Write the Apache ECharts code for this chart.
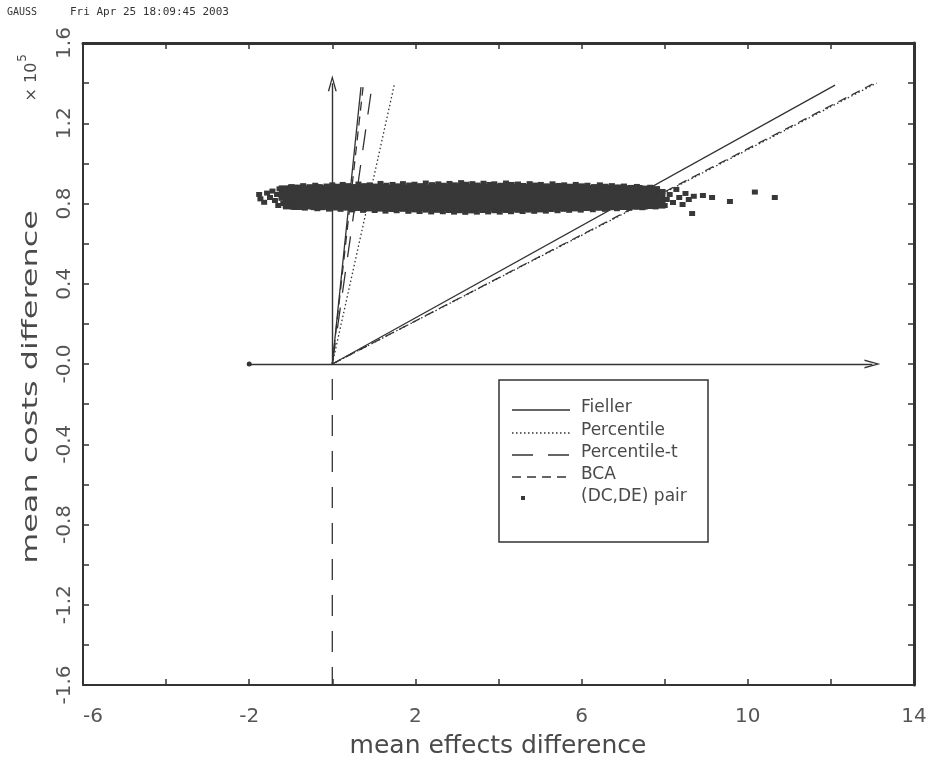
<!DOCTYPE html>
<html><head><meta charset="utf-8">
<script src="https://cdn.jsdelivr.net/npm/echarts@6/dist/echarts.min.js"></script>
<style>html,body{margin:0;padding:0;background:#fff}#c{width:930px;height:767px}</style>
</head><body><div id="c"></div>
<script>
// ---------- data ----------
const xTickValues = [-6, -2, 2, 6, 10, 14];
const xTickLabels = ['-6', '-2', '2', '6', '10', '14'];
const yTickValues = [-1.6, -1.2, -0.8, -0.4, 0, 0.4, 0.8, 1.2, 1.6];
const yTickLabels = ['-1.6', '-1.2', '-0.8', '-0.4', '-0.0', '0.4', '0.8', '1.2', '1.6'];
const legendNames = ['Fieller', 'Percentile', 'Percentile-t', 'BCA', '(DC,DE) pair'];
const headerTexts = ['GAUSS', 'Fri Apr 25 18:09:45 2003'];
const xAxisTitle = 'mean effects difference';
const yAxisTitle = 'mean costs difference';
const yScaleLabel = ['\u00d7 10', '5'];

const origin = [0, 0];
const fiellerEnds = [[0.69, 1.38], [12.1, 1.39]];
const percentileEnds = [[1.49, 1.39], [13.1, 1.40]];
const percentileTEnds = [[0.95, 1.38], [0, -1.6]];
const bcaEnds = [[0.74, 1.38], [13.0, 1.395]];
const xArrow = [[-2, 0], [13, 0]];
const yArrow = [[0, 0], [0, 1.4]];

const pairCoreUpper = [[-1.12,0.853],[-0.9,0.857],[-0.69,0.851],[-0.45,0.858],[-0.24,0.854],[0.0,0.857],[0.21,0.86],[0.45,0.855],[0.66,0.858],[0.9,0.856],[1.12,0.861],[1.36,0.857],[1.58,0.859],[1.82,0.856],[2.03,0.86],[2.27,0.857],[2.5,0.861],[2.72,0.858],[2.96,0.86],[3.18,0.862],[3.42,0.858],[3.64,0.86],[3.87,0.857],[4.1,0.861],[4.33,0.858],[4.56,0.86],[4.78,0.856],[5.02,0.859],[5.24,0.857],[5.48,0.86],[5.7,0.856],[5.93,0.858],[6.16,0.855],[6.4,0.857],[6.62,0.854],[6.85,0.856],[7.08,0.853],[7.3,0.855],[7.52,0.851],[7.72,0.849]];
const pairCoreLower = [[-1.02,0.808],[-0.8,0.805],[-0.57,0.809],[-0.35,0.804],[-0.12,0.807],[0.1,0.803],[0.33,0.806],[0.56,0.802],[0.78,0.805],[1.0,0.801],[1.24,0.804],[1.47,0.8],[1.7,0.803],[1.93,0.799],[2.16,0.802],[2.39,0.799],[2.62,0.801],[2.85,0.798],[3.08,0.801],[3.3,0.798],[3.53,0.8],[3.76,0.797],[3.99,0.8],[4.22,0.798],[4.45,0.801],[4.68,0.799],[4.9,0.802],[5.13,0.8],[5.36,0.803],[5.59,0.801],[5.82,0.804],[6.05,0.802],[6.28,0.805],[6.51,0.803],[6.74,0.806],[6.97,0.805],[7.2,0.808],[7.42,0.807],[7.65,0.81],[7.85,0.812]];
const pairTopEdge = [[-1.15,0.872],[-0.98,0.884],[-0.86,0.878],[-0.7,0.889],[-0.55,0.882],[-0.41,0.891],[-0.3,0.884],[-0.14,0.887],[0.0,0.893],[0.12,0.886],[0.25,0.895],[0.38,0.889],[0.52,0.884],[0.63,0.897],[0.77,0.889],[0.9,0.893],[1.04,0.886],[1.16,0.9],[1.3,0.891],[1.45,0.895],[1.58,0.888],[1.7,0.899],[1.85,0.892],[1.98,0.896],[2.12,0.889],[2.25,0.902],[2.4,0.894],[2.55,0.898],[2.68,0.891],[2.82,0.9],[2.95,0.893],[3.1,0.904],[3.22,0.896],[3.37,0.899],[3.5,0.892],[3.64,0.901],[3.78,0.895],[3.9,0.898],[4.05,0.891],[4.18,0.902],[4.32,0.895],[4.47,0.897],[4.6,0.89],[4.75,0.899],[4.88,0.892],[5.02,0.895],[5.16,0.888],[5.3,0.898],[5.44,0.89],[5.58,0.893],[5.72,0.886],[5.86,0.895],[6.0,0.888],[6.14,0.891],[6.3,0.884],[6.44,0.893],[6.58,0.886],[6.73,0.889],[6.88,0.882],[7.02,0.887],[7.18,0.88],[7.33,0.885],[7.5,0.876],[7.65,0.881],[7.8,0.872]];
const pairBottomEdge = [[-1.12,0.79],[-0.95,0.782],[-0.8,0.787],[-0.66,0.777],[-0.5,0.783],[-0.36,0.774],[-0.22,0.781],[-0.08,0.772],[0.06,0.779],[0.2,0.771],[0.34,0.777],[0.48,0.768],[0.6,0.775],[0.74,0.766],[0.88,0.773],[1.02,0.765],[1.15,0.772],[1.28,0.762],[1.42,0.77],[1.55,0.764],[1.7,0.771],[1.83,0.761],[1.97,0.768],[2.1,0.76],[2.24,0.767],[2.38,0.758],[2.52,0.766],[2.66,0.759],[2.8,0.765],[2.93,0.757],[3.07,0.764],[3.2,0.756],[3.34,0.763],[3.48,0.757],[3.62,0.765],[3.75,0.758],[3.9,0.764],[4.03,0.757],[4.17,0.765],[4.3,0.759],[4.45,0.766],[4.58,0.76],[4.72,0.767],[4.86,0.761],[5.0,0.768],[5.14,0.762],[5.28,0.77],[5.42,0.764],[5.56,0.771],[5.7,0.766],[5.84,0.773],[5.98,0.767],[6.12,0.775],[6.27,0.769],[6.42,0.777],[6.56,0.771],[6.7,0.779],[6.85,0.774],[7.0,0.781],[7.15,0.776],[7.3,0.784],[7.46,0.779],[7.62,0.787],[7.78,0.783]];
const pairTails = [[-1.76,0.845],[-1.73,0.823],[-1.64,0.806],[-1.57,0.852],[-1.5,0.83],[-1.44,0.862],[-1.38,0.815],[-1.33,0.845],[-1.27,0.873],[-1.22,0.826],[-1.18,0.8],[-1.3,0.79],[7.9,0.835],[7.95,0.86],[8.05,0.82],[8.0,0.79],[8.12,0.845],[8.2,0.805],[8.28,0.87],[8.35,0.83],[8.43,0.795],[8.5,0.85],[8.58,0.82],[8.66,0.75],[8.7,0.836],[8.92,0.84],[9.14,0.83],[9.57,0.81],[10.17,0.857],[10.65,0.83]];

// ---------- styles ----------
const INK = '#333';
const TXT = '#4a4a4a';
const FONT = '"DejaVu Sans", sans-serif';
const dashStyles = {
  'Fieller': 'solid',
  'Percentile': [1.5, 2.5],
  'Percentile-t': [21, 15],
  'BCA': [9, 6]
};
const methods = [
  ['Fieller', fiellerEnds],
  ['Percentile', percentileEnds],
  ['Percentile-t', percentileTEnds],
  ['BCA', bcaEnds]
];

function labelFor(values, labels) {
  return function (v) {
    for (let i = 0; i < values.length; i++) if (Math.abs(v - values[i]) < 1e-6) return labels[i];
    return '';
  };
}

const series = [];
methods.forEach(([name, ends]) => {
  ends.forEach(end => {
    series.push({
      name, type: 'line', data: [origin, end], symbol: 'none', silent: true,
      lineStyle: { color: INK, width: 1.3, type: dashStyles[name], dashOffset: end[1] < 0 ? 21 : 0 },
      z: 2
    });
  });
});
const arrowPath = 'path://M5,0 L10,16 L8.4,16 L5,4.5 L1.6,16 L0,16 Z';
series.push({
  type: 'line', data: [], silent: true, z: 3,
  markLine: {
    silent: true, animation: false,
    label: { show: false },
    lineStyle: { color: INK, width: 1.4, type: 'solid' },
    symbol: ['none', arrowPath], symbolSize: [9, 16],
    data: [
      [{ coord: xArrow[0], symbol: 'circle', symbolSize: 5 }, { coord: xArrow[1] }],
      [{ coord: yArrow[0], symbol: 'none' }, { coord: yArrow[1] }]
    ]
  }
});
const pairColor = '#383838';
series.push({
  name: legendNames[4], type: 'scatter', symbol: 'rect', symbolSize: [14, 15], silent: true, z: 5,
  itemStyle: { color: pairColor, opacity: 1 }, data: pairCoreUpper.concat(pairCoreLower)
});
series.push({
  name: legendNames[4], type: 'scatter', symbol: 'rect', symbolSize: [6, 5], silent: true, z: 5,
  itemStyle: { color: pairColor, opacity: 1 }, data: pairTopEdge.concat(pairBottomEdge, pairTails)
});

// legend drawn as graphic
const legendRowsY = [408, 431, 453, 475, 497];
const graphic = [
  { type: 'text', x: 7, y: 12, style: { text: headerTexts[0], font: '10px "DejaVu Sans Mono"', fill: '#333', verticalAlign: 'middle' } },
  { type: 'text', x: 70, y: 12, style: { text: headerTexts[1], font: '11px "DejaVu Sans Mono"', fill: '#333', verticalAlign: 'middle' } },
  { type: 'text', x: 498, y: 746, style: { text: xAxisTitle, font: '25px ' + FONT, fill: TXT, align: 'center', verticalAlign: 'middle' } },
  { type: 'text', x: 31, y: 387, rotation: Math.PI / 2, scaleX: 1.45, style: { text: yAxisTitle, font: '22px ' + FONT, fill: TXT, align: 'center', verticalAlign: 'middle' } },
  { type: 'text', x: 32, y: 82, rotation: Math.PI / 2, style: { text: yScaleLabel[0], font: '16px ' + FONT, fill: TXT, align: 'center', verticalAlign: 'middle' } },
  { type: 'text', x: 23, y: 58, rotation: Math.PI / 2, style: { text: yScaleLabel[1], font: '12px ' + FONT, fill: TXT, align: 'center', verticalAlign: 'middle' } },
  { type: 'rect', shape: { x: 499, y: 380, width: 209, height: 162 }, style: { fill: '#fff', stroke: INK, lineWidth: 1.5 }, z: 50 }
];
methods.forEach(([name], i) => {
  const d = dashStyles[name];
  graphic.push({ type: 'line', z: 51, shape: { x1: 512, y1: legendRowsY[i] + 2, x2: 570, y2: legendRowsY[i] + 2 },
    style: { stroke: INK, lineWidth: 1.3, lineDash: d === 'solid' ? null : d } });
});
graphic.push({ type: 'rect', z: 51, shape: { x: 521, y: legendRowsY[4] - 1, width: 4, height: 4 }, style: { fill: pairColor } });
legendNames.forEach((n, i) => {
  graphic.push({ type: 'text', z: 51, x: 581, y: legendRowsY[i], style: { text: n, font: '17px ' + FONT, fill: TXT, verticalAlign: 'middle' } });
});

const axisLabelStyle = { fontFamily: FONT, fontSize: 20, color: '#555' };
const option = {
  animation: false,
  backgroundColor: '#fff',
  grid: { left: 83, right: 16, top: 43, bottom: 82 },
  xAxis: [
    { type: 'value', min: -6, max: 14, interval: 2, position: 'bottom',
      axisLine: { onZero: false, lineStyle: { color: INK, width: 2 } },
      axisTick: { inside: true, length: 6, lineStyle: { color: INK, width: 1.5 } },
      axisLabel: Object.assign({ margin: 22, formatter: labelFor(xTickValues, xTickLabels), alignMinLabel: 'left' }, axisLabelStyle),
      splitLine: { show: false } },
    { type: 'value', min: -6, max: 14, interval: 2, position: 'top',
      axisLine: { onZero: false, lineStyle: { color: INK, width: 3 } },
      axisTick: { inside: true, length: 6, lineStyle: { color: INK, width: 1.5 } },
      axisLabel: { show: false }, splitLine: { show: false } }
  ],
  yAxis: [
    { type: 'value', min: -1.6, max: 1.6, interval: 0.2, position: 'left',
      axisLine: { onZero: false, lineStyle: { color: INK, width: 2 } },
      axisTick: { inside: true, length: 6, lineStyle: { color: INK, width: 1.5 } },
      axisLabel: Object.assign({ margin: 8, rotate: 90, formatter: labelFor(yTickValues, yTickLabels) }, axisLabelStyle),
      splitLine: { show: false } },
    { type: 'value', min: -1.6, max: 1.6, interval: 0.2, position: 'right',
      axisLine: { onZero: false, lineStyle: { color: INK, width: 3 } },
      axisTick: { inside: true, length: 6, lineStyle: { color: INK, width: 1.5 } },
      axisLabel: { show: false }, splitLine: { show: false } }
  ],
  series,
  graphic
};
const chart = echarts.init(document.getElementById('c'));
chart.setOption(option);
</script>
</body></html>
